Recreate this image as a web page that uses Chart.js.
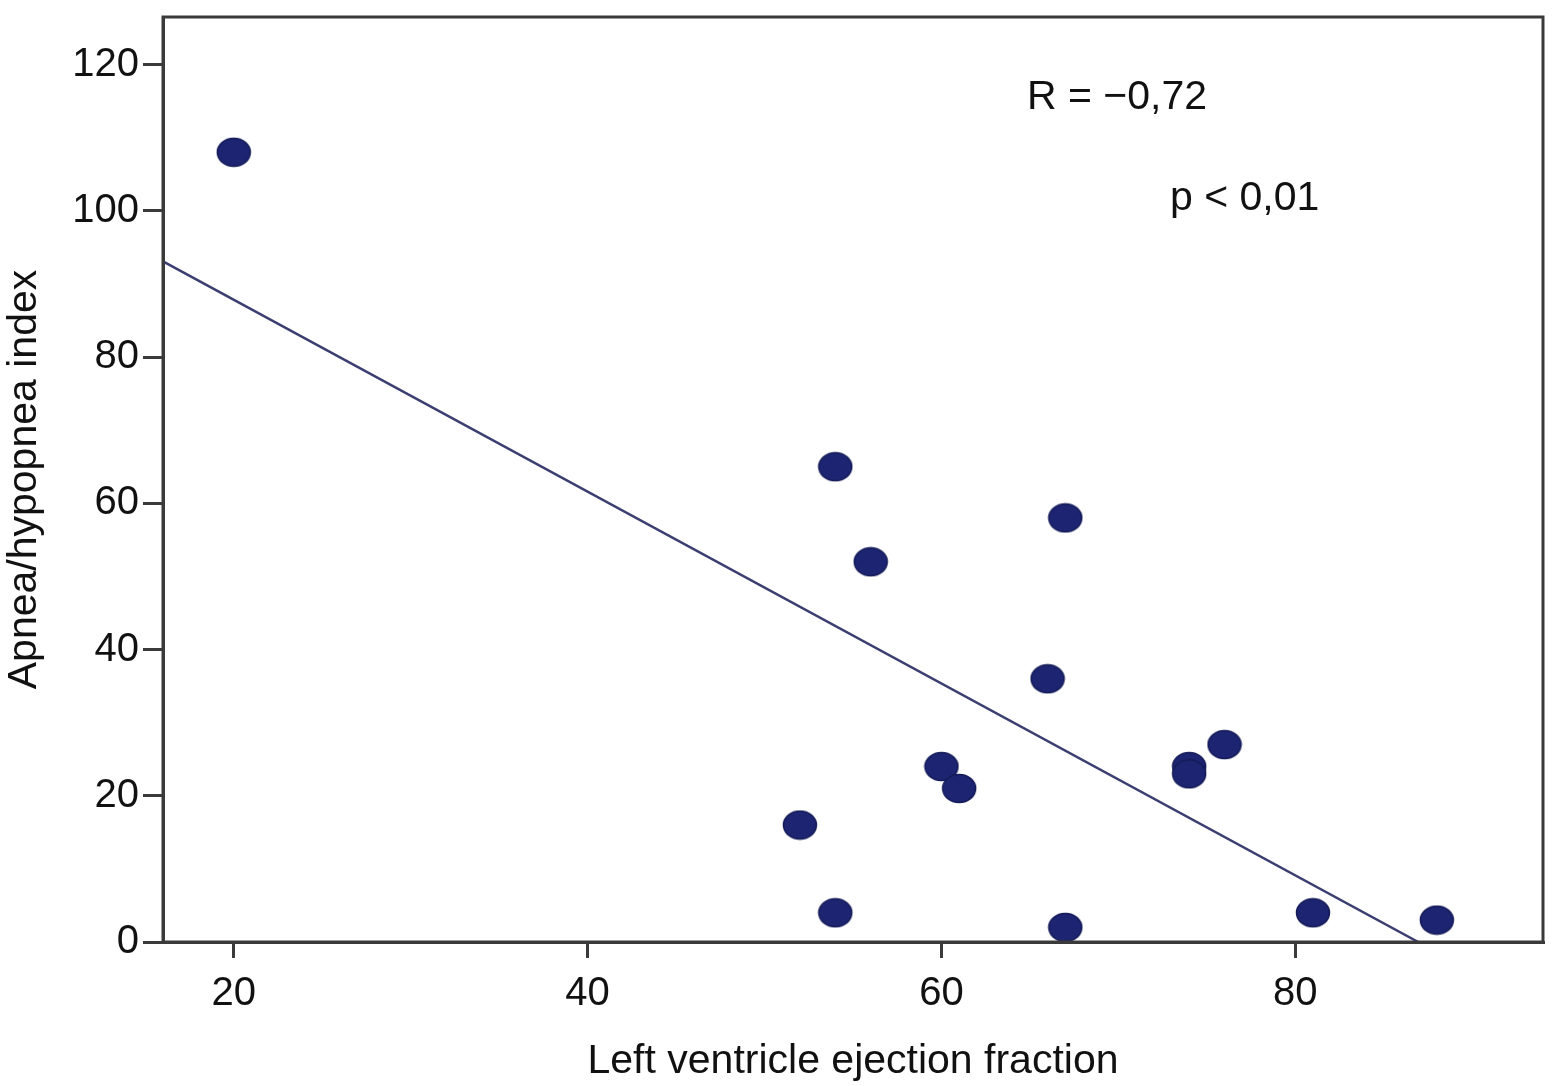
<!DOCTYPE html>
<html lang="en">
<head>
  <meta charset="UTF-8" />
  <title>AHI vs LVEF</title>
  <script src="https://cdn.jsdelivr.net/npm/chart.js"></script>
  <style>
    html, body { margin: 0; padding: 0; background: #fff; }
    #wrap { width: 1565px; height: 1086px; }
  </style>
</head>
<body>
  <div id="wrap"><canvas id="scatter" width="1565" height="1086"></canvas></div>

  <script>
    // values
    const ejectionFraction = [20, 54, 56, 67, 66, 60, 61, 52, 54, 67, 74, 74, 76, 81, 88];
    const apneaIndex       = [108, 65, 52, 58, 36, 24, 21, 16, 4, 2, 24, 23, 27, 4, 3];
    // regression line ends
    const fitX = [16.05, 86.95];
    const fitY = [93, 0];
    const yTicks = [0, 20, 40, 60, 80, 100, 120];
    const xTicks = [20, 40, 60, 80];

    const points = ejectionFraction.map((x, i) => ({ x: x, y: apneaIndex[i] }));
    const fitLine = fitX.map((x, i) => ({ x: x, y: fitY[i] }));

    // ellipse dot like the original
    const dot = document.createElement('canvas');
    dot.width = 36; dot.height = 31;
    const dc = dot.getContext('2d');
    dc.beginPath();
    dc.ellipse(18, 15.5, 16.5, 14, 0, 0, Math.PI * 2);
    dc.fillStyle = '#1d2572';
    dc.fill();
    dc.lineWidth = 1.5;
    dc.strokeStyle = '#151b58';
    dc.stroke();

    const FONT = 'Liberation Sans, Arial, sans-serif';

    // box around the plot and the R / p text
    const extras = {
      id: 'extras',
      afterDraw(chart) {
        const ctx = chart.ctx;
        const a = chart.chartArea;
        ctx.save();
        ctx.strokeStyle = '#3a3a3a';
        ctx.lineWidth = 3;
        ctx.strokeRect(a.left, a.top, a.right - a.left, a.bottom - a.top);
        ctx.fillStyle = '#111';
        ctx.font = '41px ' + FONT;
        ctx.textBaseline = 'alphabetic';
        ctx.textAlign = 'left';
        ctx.fillText('R = \u22120,72', 1027, 109);
        ctx.fillText('p < 0,01', 1170, 210);
        ctx.restore();
      }
    };

    new Chart(document.getElementById('scatter').getContext('2d'), {
      type: 'scatter',
      data: {
        datasets: [
          {
            type: 'line',
            data: fitLine,
            borderColor: '#3b3e70',
            borderWidth: 2.5,
            pointRadius: 0,
            fill: false,
            order: 2
          },
          {
            data: points,
            pointStyle: dot,
            pointRadius: 16,
            order: 1
          }
        ]
      },
      options: {
        responsive: false,
        animation: false,
        layout: { padding: { top: 14, right: 22, left: 0, bottom: 0 } },
        plugins: { legend: { display: false }, tooltip: { enabled: false } },
        scales: {
          x: {
            type: 'linear',
            min: 16,
            max: 94,
            afterBuildTicks: s => { s.ticks = xTicks.map(v => ({ value: v })); },
            afterFit: s => { s.height = 144; s.paddingLeft = 0; s.paddingRight = 0; },
            grid: { drawOnChartArea: false, drawTicks: true, tickLength: 16, tickColor: '#3a3a3a', lineWidth: 3 },
            border: { display: true, color: '#3a3a3a', width: 3 },
            ticks: { color: '#111', font: { family: FONT, size: 40 }, padding: 12, maxRotation: 0 },
            title: {
              display: true,
              text: 'Left ventricle ejection fraction',
              color: '#111',
              font: { family: FONT, size: 41 },
              padding: { top: 10, bottom: 0 }
            }
          },
          y: {
            type: 'linear',
            min: 0,
            max: 126.5,
            afterBuildTicks: s => { s.ticks = yTicks.map(v => ({ value: v })); },
            afterFit: s => { s.width = 163; s.paddingTop = 0; s.paddingBottom = 0; },
            grid: { drawOnChartArea: false, drawTicks: true, tickLength: 20, tickColor: '#3a3a3a', lineWidth: 3 },
            border: { display: true, color: '#3a3a3a', width: 3 },
            ticks: { color: '#111', font: { family: FONT, size: 40 }, padding: 4 },
            title: {
              display: true,
              text: 'Apnea/hypopnea index',
              color: '#111',
              font: { family: FONT, size: 41 },
              padding: { top: 0, bottom: 0 }
            }
          }
        }
      },
      plugins: [extras]
    });
  </script>
</body>
</html>
